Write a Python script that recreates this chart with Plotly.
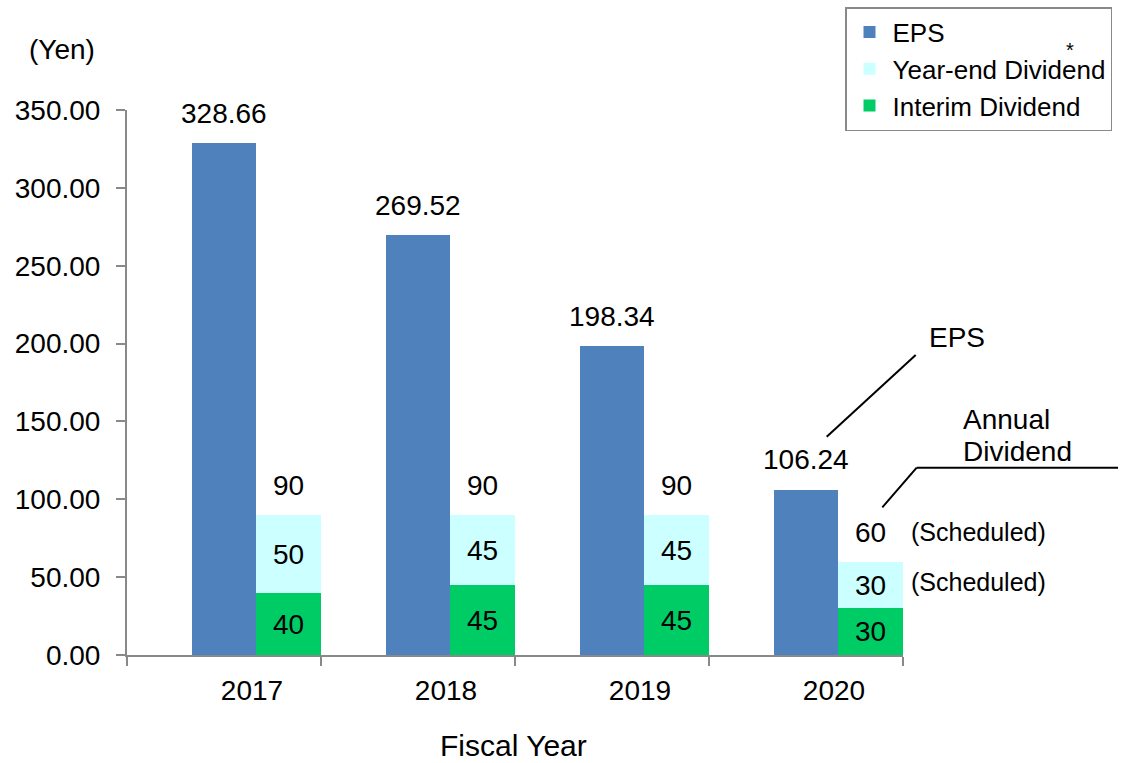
import plotly.graph_objects as go

# ---- data ----
years = ["2017", "2018", "2019", "2020"]
eps = [328.66, 269.52, 198.34, 106.24]
eps_labels = ["328.66", "269.52", "198.34", "106.24"]
interim_div = [40, 45, 45, 30]
yearend_div = [50, 45, 45, 30]
annual_div = [90, 90, 90, 60]
y_ticks = [0, 50, 100, 150, 200, 250, 300, 350]

# ---- layout helpers ----
W, H = 1126, 763
PL, PR, PT, PB = 127, 903, 110, 655  # plot area in pixels


def px(x):
    return (x - PL) / (PR - PL)


def py(y):
    return (PB - y) / (PB - PT)


FONT = "Liberation Sans, Arial, sans-serif"
AXC = "#898989"

idx = list(range(len(years)))
eps_x = [i + 0.5 for i in idx]
div_x = [i + 5 / 6 for i in idx]
bar_w = 1 / 3

fig = go.Figure()
fig.add_trace(go.Bar(
    x=div_x, y=interim_div, width=bar_w, name="Interim Dividend",
    marker=dict(color="#00CC66", line=dict(width=0)),
    text=[str(v) for v in interim_div], textposition="inside",
    insidetextanchor="middle", constraintext="none",
    textfont=dict(size=28, color="black", family=FONT),
    legendrank=3,
))
fig.add_trace(go.Bar(
    x=div_x, y=yearend_div, width=bar_w, name="Year-end Dividend",
    marker=dict(color="#CCFFFF", line=dict(width=0)),
    text=[str(v) for v in yearend_div], textposition="inside",
    insidetextanchor="middle", constraintext="none",
    textfont=dict(size=28, color="black", family=FONT),
    legendrank=2,
))
fig.add_trace(go.Bar(
    x=eps_x, y=eps, width=bar_w, name="EPS",
    marker=dict(color="#4F81BD", line=dict(width=0)),
    legendrank=1,
))

annotations = []
for x, v, lab in zip(eps_x, eps, eps_labels):
    annotations.append(dict(x=x, y=v, xref="x", yref="y", text=lab,
                            showarrow=False, yanchor="middle", yshift=30,
                            font=dict(size=28, color="black", family=FONT)))
for x, v in zip(div_x, annual_div):
    annotations.append(dict(x=x, y=v, xref="x", yref="y", text=str(v),
                            showarrow=False, yanchor="middle", yshift=29,
                            font=dict(size=28, color="black", family=FONT)))

# texts around the chart
annotations += [
    dict(x=px(62), y=py(49), xref="paper", yref="paper", text="(Yen)",
         showarrow=False, xanchor="center", yanchor="middle",
         font=dict(size=28, color="black", family=FONT)),
    dict(x=px(513), y=py(764), xref="paper", yref="paper", text="Fiscal Year",
         showarrow=False, xanchor="center", yanchor="bottom",
         font=dict(size=30, color="black", family=FONT)),
    dict(x=px(957), y=py(337), xref="paper", yref="paper", text="EPS",
         showarrow=False, xanchor="center", yanchor="middle",
         font=dict(size=28, color="black", family=FONT)),
    dict(x=px(961), y=py(419), xref="paper", yref="paper", text="Annual",
         showarrow=False, xanchor="left", yanchor="middle",
         font=dict(size=28, color="black", family=FONT)),
    dict(x=px(961), y=py(451), xref="paper", yref="paper", text="Dividend",
         showarrow=False, xanchor="left", yanchor="middle",
         font=dict(size=28, color="black", family=FONT)),
    dict(x=px(909), y=py(532), xref="paper", yref="paper", text="(Scheduled)",
         showarrow=False, xanchor="left", yanchor="middle",
         font=dict(size=25, color="black", family=FONT)),
    dict(x=px(909), y=py(582), xref="paper", yref="paper", text="(Scheduled)",
         showarrow=False, xanchor="left", yanchor="middle",
         font=dict(size=25, color="black", family=FONT)),
    dict(x=px(1070), y=py(50), xref="paper", yref="paper", text="*",
         showarrow=False, xanchor="center", yanchor="middle",
         font=dict(size=20, color="black", family=FONT)),
]

shapes = [
    dict(type="line", xref="paper", yref="paper",
         x0=px(826.7), y0=py(436.7), x1=px(915.7), y1=py(355),
         line=dict(color="black", width=2)),
    dict(type="line", xref="paper", yref="paper",
         x0=px(916.7), y0=py(467.7), x1=px(1118), y1=py(467.7),
         line=dict(color="black", width=2)),
    dict(type="line", xref="paper", yref="paper",
         x0=px(916.7), y0=py(467.7), x1=px(882.3), y1=py(507.3),
         line=dict(color="black", width=2)),
]

fig.update_layout(
    width=W, height=H,
    margin=dict(l=PL, r=W - PR, t=PT, b=H - PB, pad=0, autoexpand=False),
    paper_bgcolor="white", plot_bgcolor="white",
    barmode="stack", bargap=0,
    font=dict(family=FONT, size=28, color="black"),
    showlegend=True,
    legend=dict(
        x=px(845), y=py(7), xanchor="left", yanchor="top",
        bordercolor=AXC, borderwidth=1.5, bgcolor="white",
        font=dict(size=26, color="black", family=FONT),
        traceorder="normal", itemwidth=36,
    ),
    xaxis=dict(
        range=[0, 4], tickmode="array", tickvals=idx + [len(years)],
        ticktext=years + [""], ticks="outside", ticklen=9, tickwidth=2,
        tickcolor=AXC, showline=True, linecolor=AXC, linewidth=2,
        showgrid=False, zeroline=False, ticklabelshift=125,
        ticklabelstandoff=0,
        tickfont=dict(size=28, family=FONT, color="black"),
        fixedrange=True,
    ),
    yaxis=dict(
        range=[0, 350], tickmode="array", tickvals=y_ticks, tickformat=".2f",
        ticks="outside", ticklen=9, tickwidth=2, tickcolor=AXC,
        showline=True, linecolor=AXC, linewidth=2, showgrid=False,
        zeroline=False, ticklabelstandoff=10,
        tickfont=dict(size=28, family=FONT, color="black"),
        fixedrange=True,
    ),
    annotations=annotations,
    shapes=shapes,
)

fig.write_html("out.html", config={"displayModeBar": False},
               post_script="document.body.style.margin='0';")
